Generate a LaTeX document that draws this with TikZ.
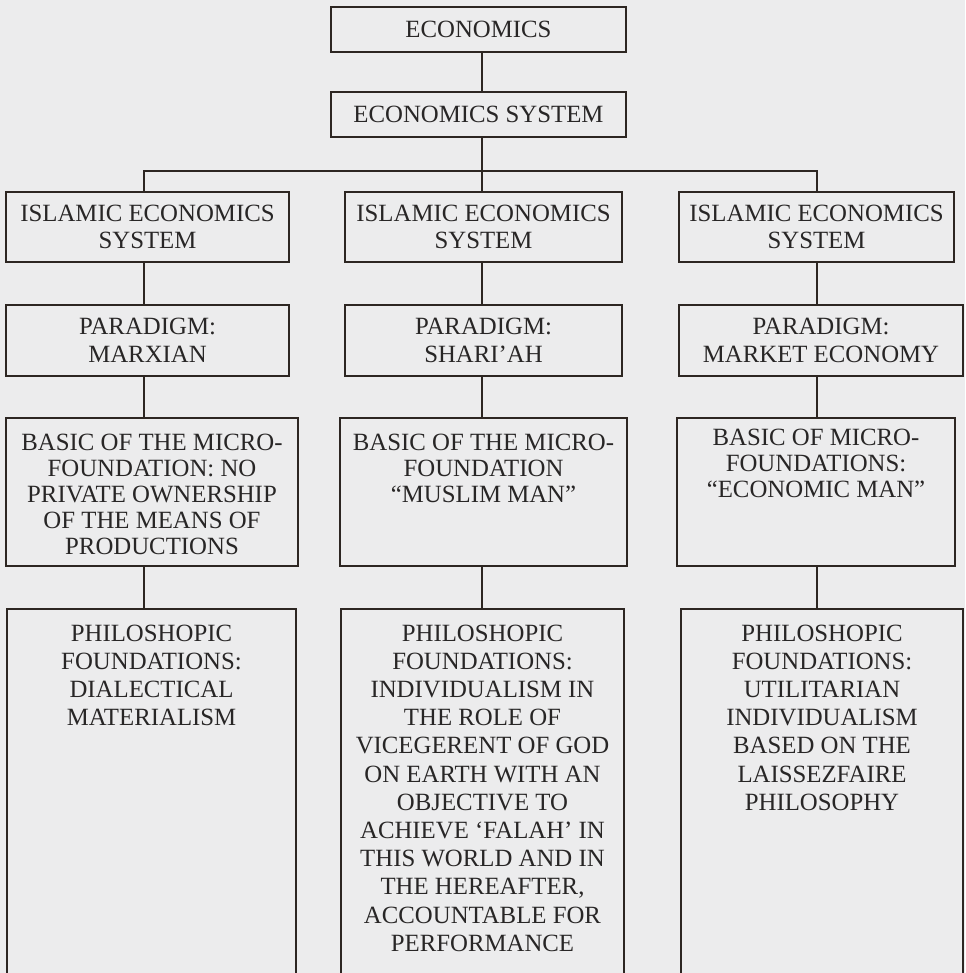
\documentclass[tikz,border=0pt]{standalone}
\usepackage{fontspec}
\setmainfont{Liberation Serif}
\definecolor{paper}{RGB}{236,236,237}
\definecolor{ink}{RGB}{45,38,34}
\definecolor{txt}{RGB}{40,38,38}
% #1 width, #2 height, #3 inner position, #4 baselineskip, #5 text
\newcommand{\boxtxt}[5]{\begin{minipage}[t][#2][#3]{#1}\fontsize{24.8}{#4}\selectfont\centering #5\end{minipage}}
\newcommand{\topstrut}{\rule{0pt}{32pt}}
\begin{document}
\begin{tikzpicture}[x=1pt,y=-1pt,
  bx/.style={draw=ink, line width=2pt, inner sep=0pt, outer sep=0pt, anchor=north west, text=txt},
  conn/.style={draw=ink, line width=2pt}]
\fill[paper] (0,0) rectangle (965,973);
\useasboundingbox (0,0) rectangle (965,973);
\clip (0,0) rectangle (965,973);
% top
\node[bx] (eco) at (331,7)  {\boxtxt{295pt}{45pt}{c}{28pt}{ECONOMICS}};
\node[bx] (sys) at (331,92) {\boxtxt{295pt}{45pt}{c}{28pt}{ECONOMICS SYSTEM}};
% row 1
\node[bx] (i1) at (6,192)   {\boxtxt{283pt}{70pt}{c}{27pt}{ISLAMIC ECONOMICS\\SYSTEM}};
\node[bx] (i2) at (345,192) {\boxtxt{277pt}{70pt}{c}{27pt}{ISLAMIC ECONOMICS\\SYSTEM}};
\node[bx] (i3) at (679,192) {\boxtxt{275pt}{70pt}{c}{27pt}{ISLAMIC ECONOMICS\\SYSTEM}};
% row 2
\node[bx] (p1) at (6,305)   {\boxtxt{283pt}{71pt}{c}{28pt}{PARADIGM:\\MARXIAN}};
\node[bx] (p2) at (345,305) {\boxtxt{277pt}{71pt}{c}{28pt}{PARADIGM:\\SHARI’AH}};
\node[bx] (p3) at (679,305) {\boxtxt{284pt}{71pt}{c}{28pt}{PARADIGM:\\MARKET ECONOMY}};
% row 3
\node[bx] (b1) at (6,418)   {\boxtxt{292pt}{148pt}{t}{26.2pt}{\topstrut BASIC OF THE MICRO-\\FOUNDATION: NO\\PRIVATE OWNERSHIP\\OF THE MEANS OF\\PRODUCTIONS}};
\node[bx] (b2) at (340,418) {\boxtxt{287pt}{148pt}{t}{26.2pt}{\topstrut BASIC OF THE MICRO-\\FOUNDATION\\“MUSLIM MAN”}};
\node[bx] (b3) at (677,418) {\boxtxt{278pt}{148pt}{t}{26.2pt}{\rule{0pt}{27pt}BASIC OF MICRO-\\FOUNDATIONS:\\“ECONOMIC MAN”}};
% row 4
\node[bx] (f1) at (7,609)   {\boxtxt{289pt}{381pt}{t}{28.2pt}{\topstrut PHILOSHOPIC\\FOUNDATIONS:\\DIALECTICAL\\MATERIALISM}};
\node[bx] (f2) at (341,609) {\boxtxt{283pt}{381pt}{t}{28.2pt}{\topstrut PHILOSHOPIC\\FOUNDATIONS:\\INDIVIDUALISM IN\\THE ROLE OF\\VICEGERENT OF GOD\\ON EARTH WITH AN\\OBJECTIVE TO\\ACHIEVE ‘FALAH’ IN\\THIS WORLD AND IN\\THE HEREAFTER,\\ACCOUNTABLE FOR\\PERFORMANCE}};
\node[bx] (f3) at (681,609) {\boxtxt{282pt}{381pt}{t}{28.2pt}{\topstrut PHILOSHOPIC\\FOUNDATIONS:\\UTILITARIAN\\INDIVIDUALISM\\BASED ON THE\\LAISSEZFAIRE\\PHILOSOPHY}};
% connectors
\coordinate (cl) at (144,0);
\coordinate (cm) at (482,0);
\coordinate (cr) at (817,0);
\coordinate (bar) at (482,171);
\draw[conn] (eco.south -| cm) -- (sys.north -| cm);
\draw[conn] (sys.south -| cm) -- (bar);
\draw[conn] (i1.north -| cl) |- (bar) -| (i3.north -| cr);
\draw[conn] (bar) -- (i2.north -| cm);
\draw[conn] (i1.south -| cl) -- (p1.north -| cl);
\draw[conn] (i2.south -| cm) -- (p2.north -| cm);
\draw[conn] (i3.south -| cr) -- (p3.north -| cr);
\draw[conn] (p1.south -| cl) -- (b1.north -| cl);
\draw[conn] (p2.south -| cm) -- (b2.north -| cm);
\draw[conn] (p3.south -| cr) -- (b3.north -| cr);
\draw[conn] (b1.south -| cl) -- (f1.north -| cl);
\draw[conn] (b2.south -| cm) -- (f2.north -| cm);
\draw[conn] (b3.south -| cr) -- (f3.north -| cr);
\end{tikzpicture}
\end{document}
